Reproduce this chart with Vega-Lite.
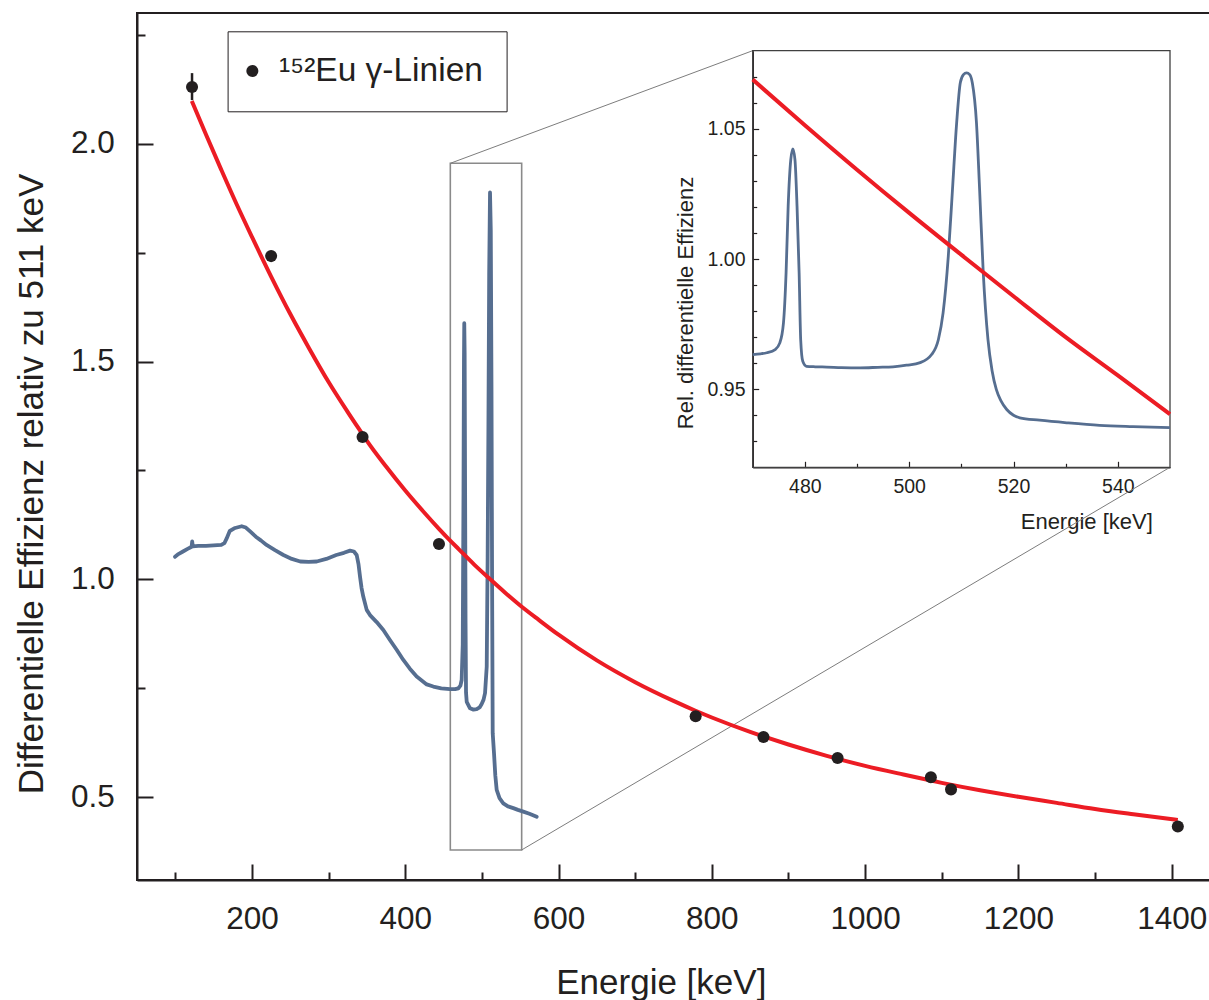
{
  "$schema": "https://vega.github.io/schema/vega-lite/v6.json",
  "autosize": {"type": "none"},
  "padding": {"left": 137, "top": 13, "right": 0, "bottom": 120},
  "width": 1073,
  "height": 867,
  "background": "white",
  "config": {
    "view": {"stroke": "#231f20", "strokeWidth": 2},
    "font": "Liberation Sans",
    "axis": {
      "grid": false,
      "labelFont": "Liberation Sans",
      "titleFont": "Liberation Sans",
      "titleFontWeight": "normal",
      "labelColor": "#231f20",
      "titleColor": "#231f20",
      "domainColor": "#231f20",
      "tickColor": "#231f20",
      "labelOverlap": false,
      "labelFlush": false
    }
  },
  "datasets": {
    "points": [
      {"E": 121.8, "v": 2.130, "lo": 2.100, "hi": 2.162},
      {"E": 225.0, "v": 1.742, "lo": 1.730, "hi": 1.754},
      {"E": 344.3, "v": 1.327, "lo": 1.320, "hi": 1.334},
      {"E": 444.0, "v": 1.081, "lo": 1.075, "hi": 1.087},
      {"E": 778.9, "v": 0.686, "lo": 0.682, "hi": 0.690},
      {"E": 867.4, "v": 0.638, "lo": 0.634, "hi": 0.642},
      {"E": 964.1, "v": 0.590, "lo": 0.586, "hi": 0.594},
      {"E": 1085.8, "v": 0.546, "lo": 0.542, "hi": 0.550},
      {"E": 1112.1, "v": 0.518, "lo": 0.514, "hi": 0.522},
      {"E": 1408.0, "v": 0.433, "lo": 0.429, "hi": 0.437}
    ],
    "fit": [
      {"E": 121.5, "v": 2.098}, {"E": 140, "v": 2.021}, {"E": 160, "v": 1.940}, {"E": 180, "v": 1.861},
      {"E": 200, "v": 1.786}, {"E": 225, "v": 1.695}, {"E": 250, "v": 1.609}, {"E": 275, "v": 1.529},
      {"E": 300, "v": 1.453}, {"E": 325, "v": 1.384}, {"E": 344.3, "v": 1.333}, {"E": 350, "v": 1.318},
      {"E": 375, "v": 1.259}, {"E": 400, "v": 1.204}, {"E": 425, "v": 1.153}, {"E": 444, "v": 1.116},
      {"E": 458, "v": 1.090}, {"E": 470, "v": 1.069}, {"E": 490, "v": 1.034}, {"E": 511, "v": 1.000},
      {"E": 530, "v": 0.970}, {"E": 550, "v": 0.940}, {"E": 575, "v": 0.906}, {"E": 600, "v": 0.873},
      {"E": 650, "v": 0.814}, {"E": 700, "v": 0.764}, {"E": 750, "v": 0.721}, {"E": 778, "v": 0.699},
      {"E": 800, "v": 0.683}, {"E": 850, "v": 0.650}, {"E": 900, "v": 0.621}, {"E": 950, "v": 0.595},
      {"E": 1000, "v": 0.572}, {"E": 1050, "v": 0.552}, {"E": 1100, "v": 0.533}, {"E": 1150, "v": 0.516},
      {"E": 1200, "v": 0.501}, {"E": 1250, "v": 0.487}, {"E": 1300, "v": 0.473}, {"E": 1350, "v": 0.461},
      {"E": 1408, "v": 0.448}
    ],
    "spectrum": [
      {"E": 99.6, "v": 1.052}, {"E": 104, "v": 1.058}, {"E": 110, "v": 1.064}, {"E": 116, "v": 1.070},
      {"E": 121.3, "v": 1.075}, {"E": 122, "v": 1.087}, {"E": 122.8, "v": 1.076}, {"E": 130, "v": 1.077},
      {"E": 140, "v": 1.077}, {"E": 150, "v": 1.078}, {"E": 160, "v": 1.079}, {"E": 164, "v": 1.083},
      {"E": 167, "v": 1.094}, {"E": 171, "v": 1.111}, {"E": 178, "v": 1.118}, {"E": 186.6, "v": 1.122},
      {"E": 192, "v": 1.119}, {"E": 197.6, "v": 1.110}, {"E": 205, "v": 1.098}, {"E": 212, "v": 1.089},
      {"E": 219, "v": 1.079}, {"E": 230, "v": 1.067}, {"E": 241, "v": 1.056}, {"E": 252, "v": 1.047},
      {"E": 263, "v": 1.041}, {"E": 274, "v": 1.040}, {"E": 284.5, "v": 1.041}, {"E": 297, "v": 1.047},
      {"E": 310, "v": 1.056}, {"E": 320, "v": 1.061}, {"E": 328, "v": 1.066}, {"E": 333, "v": 1.064},
      {"E": 336.6, "v": 1.056}, {"E": 339, "v": 1.035}, {"E": 341, "v": 1.006}, {"E": 343, "v": 0.980},
      {"E": 345.3, "v": 0.960}, {"E": 349.7, "v": 0.930}, {"E": 354, "v": 0.918}, {"E": 362.7, "v": 0.902},
      {"E": 371.4, "v": 0.884}, {"E": 380, "v": 0.861}, {"E": 389, "v": 0.838}, {"E": 397.5, "v": 0.815},
      {"E": 406, "v": 0.795}, {"E": 414.9, "v": 0.777}, {"E": 428, "v": 0.759}, {"E": 436.6, "v": 0.754},
      {"E": 447, "v": 0.750}, {"E": 458.4, "v": 0.748}, {"E": 465, "v": 0.748}, {"E": 469.3, "v": 0.750},
      {"E": 472, "v": 0.756}, {"E": 473.6, "v": 0.769}, {"E": 475, "v": 0.85}, {"E": 476, "v": 1.2},
      {"E": 476.6, "v": 1.50}, {"E": 477.0, "v": 1.588}, {"E": 477.5, "v": 1.52}, {"E": 478.1, "v": 1.2},
      {"E": 478.7, "v": 0.9}, {"E": 479.3, "v": 0.74}, {"E": 480.2, "v": 0.719}, {"E": 484.5, "v": 0.704},
      {"E": 489, "v": 0.701}, {"E": 493.2, "v": 0.702}, {"E": 497, "v": 0.706}, {"E": 499.7, "v": 0.714},
      {"E": 502.2, "v": 0.724}, {"E": 504.1, "v": 0.739}, {"E": 506.3, "v": 0.800}, {"E": 507.5, "v": 1.05},
      {"E": 508.5, "v": 1.35}, {"E": 509.5, "v": 1.70}, {"E": 510.6, "v": 1.888}, {"E": 511.6, "v": 1.80},
      {"E": 512.5, "v": 1.45}, {"E": 513.3, "v": 1.0}, {"E": 514.1, "v": 0.647}, {"E": 515.8, "v": 0.601},
      {"E": 517.5, "v": 0.550}, {"E": 519.3, "v": 0.517}, {"E": 523, "v": 0.498}, {"E": 527.9, "v": 0.486},
      {"E": 534, "v": 0.479}, {"E": 541, "v": 0.475}, {"E": 547, "v": 0.471}, {"E": 554, "v": 0.467},
      {"E": 562, "v": 0.462}, {"E": 571.5, "v": 0.455}
    ],
    "zoombox": [{"E": 458.8, "v": 0.379, "E2": 551.9, "v2": 1.955}],
    "connectors": [
      {"E": 458.8, "v": 1.955, "E2": 853.3, "v2": 2.2135},
      {"E": 551.9, "v": 0.379, "E2": 1397.8, "v2": 1.2573}
    ],
    "insetframe": [{"E": 470, "v": 0.92, "E2": 550, "v2": 1.08}],
    "insetSpectrum": [
      {"E": 470.0, "v": 0.9633}, {"E": 471.5, "v": 0.9636}, {"E": 472.7, "v": 0.9640}, {"E": 474.3, "v": 0.9652},
      {"E": 475.2, "v": 0.9678}, {"E": 475.9, "v": 0.9755}, {"E": 476.4, "v": 0.9947}, {"E": 476.8, "v": 1.0203},
      {"E": 477.3, "v": 1.0382}, {"E": 477.7, "v": 1.0423}, {"E": 478.1, "v": 1.0382}, {"E": 478.5, "v": 1.0203},
      {"E": 478.9, "v": 0.9947}, {"E": 479.2, "v": 0.9690}, {"E": 479.6, "v": 0.9607}, {"E": 480.3, "v": 0.9588},
      {"E": 482, "v": 0.9586}, {"E": 484.2, "v": 0.9585}, {"E": 487, "v": 0.9583}, {"E": 490.6, "v": 0.9582},
      {"E": 494, "v": 0.9584}, {"E": 496.9, "v": 0.9586}, {"E": 499.5, "v": 0.9592}, {"E": 502.1, "v": 0.9602},
      {"E": 504.3, "v": 0.9633}, {"E": 505.6, "v": 0.9691}, {"E": 506.5, "v": 0.9793}, {"E": 507.5, "v": 1.0011},
      {"E": 508.3, "v": 1.0267}, {"E": 509.1, "v": 1.0523}, {"E": 509.8, "v": 1.0677}, {"E": 510.4, "v": 1.0708},
      {"E": 511.0, "v": 1.0715}, {"E": 511.6, "v": 1.0708}, {"E": 512.1, "v": 1.0677}, {"E": 512.9, "v": 1.0523},
      {"E": 513.5, "v": 1.0267}, {"E": 514.2, "v": 0.9947}, {"E": 515.1, "v": 0.9691}, {"E": 515.9, "v": 0.9570},
      {"E": 516.7, "v": 0.9499}, {"E": 517.6, "v": 0.9455}, {"E": 518.7, "v": 0.9422}, {"E": 520, "v": 0.9400},
      {"E": 521.2, "v": 0.9390}, {"E": 525, "v": 0.9381}, {"E": 530.2, "v": 0.9371}, {"E": 536.5, "v": 0.9361},
      {"E": 542.9, "v": 0.9356}, {"E": 550, "v": 0.9352}
    ],
    "insetFit": [
      {"E": 470, "v": 1.0689}, {"E": 480, "v": 1.0514}, {"E": 490, "v": 1.0343}, {"E": 500, "v": 1.0177},
      {"E": 511, "v": 1.0000}, {"E": 520, "v": 0.9857}, {"E": 530, "v": 0.9700}, {"E": 540, "v": 0.9553},
      {"E": 550, "v": 0.9404}
    ]
  },
  "layer": [
    {
      "encoding": {
        "x": {
          "field": "E", "type": "quantitative",
          "scale": {"domain": [50, 1450], "nice": false, "zero": false},
          "axis": {
            "orient": "bottom",
            "title": "Energie [keV]",
            "values": [100, 200, 300, 400, 500, 600, 700, 800, 900, 1000, 1100, 1200, 1300, 1400],
            "format": "d",
            "labelExpr": "datum.value % 200 === 0 ? datum.label : ''",
            "tickSize": {"condition": {"test": "datum.value % 200 === 0", "value": -16}, "value": -8},
            "tickWidth": 2,
            "domainWidth": 2,
            "labelFontSize": 31.5,
            "labelPadding": 39.7,
            "titleFontSize": 35,
            "titleX": 523.8,
            "titleY": 113.3,
            "titleAlign": "center",
            "titleBaseline": "alphabetic"
          }
        },
        "y": {
          "field": "v", "type": "quantitative",
          "scale": {"domain": [0.31, 2.3], "nice": false, "zero": false},
          "axis": {
            "orient": "left",
            "title": "Differentielle Effizienz relativ zu 511 keV",
            "values": [0.5, 0.75, 1, 1.25, 1.5, 1.75, 2, 2.25],
            "labelExpr": "(datum.value * 4) % 2 === 0 ? format(datum.value, '.1f') : ''",
            "tickSize": {"condition": {"test": "(datum.value * 4) % 2 === 0", "value": -16}, "value": -8},
            "tickWidth": 2,
            "domainWidth": 2,
            "labelFontSize": 31.5,
            "labelPadding": 38.7,
            "titleFontSize": 35,
            "titleAngle": -90,
            "titleX": -94.3,
            "titleY": 470.5,
            "titleAlign": "center",
            "titleBaseline": "alphabetic"
          }
        }
      },
      "layer": [
        {
          "data": {"name": "zoombox"},
          "mark": {"type": "rect", "fill": "transparent", "stroke": "#8a8a8a", "strokeWidth": 1.6},
          "encoding": {"x2": {"field": "E2"}, "y2": {"field": "v2"}}
        },
        {
          "data": {"name": "connectors"},
          "mark": {"type": "rule", "stroke": "#7d7d7d", "strokeWidth": 1},
          "encoding": {"x2": {"field": "E2"}, "y2": {"field": "v2"}}
        },
        {
          "data": {"name": "spectrum"},
          "mark": {"type": "line", "color": "#566e90", "strokeWidth": 3.8, "strokeJoin": "round", "strokeCap": "round"},
          "encoding": {}
        },
        {
          "data": {"name": "fit"},
          "mark": {"type": "line", "color": "#ec1c24", "strokeWidth": 4, "interpolate": "monotone"},
          "encoding": {}
        },
        {
          "data": {"name": "points"},
          "mark": {"type": "rule", "color": "#231f20", "strokeWidth": 2.5},
          "encoding": {
            "y": {"field": "lo", "type": "quantitative", "title": "Differentielle Effizienz relativ zu 511 keV"},
            "y2": {"field": "hi"}
          }
        },
        {
          "data": {"name": "points"},
          "mark": {"type": "point", "filled": true, "size": 145, "opacity": 1},
          "encoding": {
            "color": {
              "datum": "¹⁵²Eu γ-Linien ",
              "type": "nominal",
              "scale": {"range": ["#231f20"]},
              "legend": {
                "orient": "none",
                "legendX": 90.6,
                "legendY": 18.3,
                "title": null,
                "strokeColor": "#231f20",
                "fillColor": "white",
                "padding": 23,
                "labelFont": "Liberation Sans",
                "labelFontSize": 33.5,
                "labelColor": "#231f20",
                "labelOffset": 10,
                "labelLimit": 600,
                "symbolType": "circle",
                "symbolSize": 145,
                "symbolOffset": -15,
                "symbolStrokeWidth": 0,
                "encode": {"legend": {"update": {"strokeWidth": {"value": 2}}}}
              }
            }
          }
        }
      ]
    },
    {
      "encoding": {
        "x": {
          "field": "E", "type": "quantitative",
          "scale": {"domain": [470, 550], "range": [615.7, 1033], "nice": false, "zero": false},
          "axis": {
            "orient": "bottom",
            "offset": -412.7,
            "title": "Energie [keV]",
            "values": [480, 490, 500, 510, 520, 530, 540],
            "labelExpr": "datum.value % 20 === 0 ? datum.label : ''",
            "tickSize": {"condition": {"test": "datum.value % 20 === 0", "value": -6}, "value": -4},
            "tickWidth": 1.2,
            "domainWidth": 1.5,
            "labelFontSize": 19.5,
            "labelPadding": 16.6,
            "titleFontSize": 22,
            "titleX": 1015.3,
            "titleY": 60.7,
            "titleAlign": "right",
            "titleBaseline": "alphabetic"
          }
        },
        "y": {
          "field": "v", "type": "quantitative",
          "scale": {"domain": [0.92, 1.08], "range": [454.3, 37.7], "nice": false, "zero": false},
          "axis": {
            "orient": "left",
            "offset": -615.7,
            "title": "Rel. differentielle Effizienz",
            "values": [0.93, 0.94, 0.95, 0.96, 0.97, 0.98, 0.99, 1.0, 1.01, 1.02, 1.03, 1.04, 1.05, 1.06, 1.07],
            "labelExpr": "abs(datum.value * 20 - round(datum.value * 20)) < 0.000001 ? format(datum.value, '.2f') : ''",
            "tickSize": {"condition": {"test": "abs(datum.value * 20 - round(datum.value * 20)) < 0.000001", "value": -6}, "value": -4},
            "tickWidth": 1.2,
            "domainWidth": 1.5,
            "labelFontSize": 19.5,
            "labelPadding": 13.7,
            "titleFontSize": 22,
            "titleAngle": -90,
            "titleX": -60,
            "titleY": 289.5,
            "titleAlign": "center",
            "titleBaseline": "alphabetic"
          }
        }
      },
      "layer": [
        {
          "data": {"name": "insetframe"},
          "mark": {"type": "rect", "fill": "transparent", "stroke": "#404040", "strokeWidth": 1.3},
          "encoding": {"x2": {"field": "E2"}, "y2": {"field": "v2"}}
        },
        {
          "data": {"name": "insetSpectrum"},
          "mark": {"type": "line", "color": "#566e90", "strokeWidth": 2.8, "interpolate": "monotone"},
          "encoding": {}
        },
        {
          "data": {"name": "insetFit"},
          "mark": {"type": "line", "color": "#ec1c24", "strokeWidth": 4, "interpolate": "monotone"},
          "encoding": {}
        }
      ]
    }
  ],
  "resolve": {"scale": {"x": "independent", "y": "independent"}}
}
